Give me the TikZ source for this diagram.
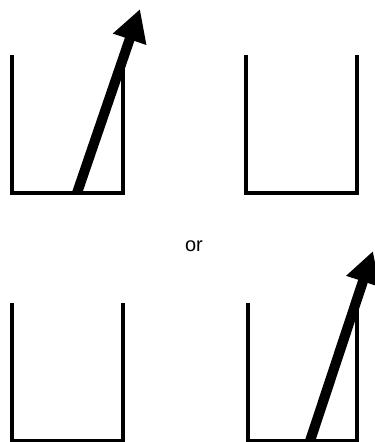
\documentclass[tikz,border=0pt]{standalone}
\usepackage{fontspec}
\setsansfont{Liberation Sans}
\usetikzlibrary{arrows.meta}

\tikzset{
  beaker/.style={line width=3.2pt, line cap=butt, line join=miter},
  ray/.style={line width=10pt, -{Triangle[length=32pt, width=33pt]}}
}

\begin{document}
\begin{tikzpicture}[x=1pt, y=-1pt]
        \useasboundingbox (0,0) rectangle (375,442);

        % Bicchiere in alto a sinistra
        \draw[beaker] (12,55) -- (12,193) -- (123,193) -- (123,55);
        \coordinate (a0) at (77,193);
        \coordinate (a1) at (140,9);
        \draw[ray] (a0) -- (a1);

        % Bicchiere in alto a destra
        \draw[beaker] (246,55) -- (246,193) -- (357,193) -- (357,55);

        % Testo
        \node[font=\sffamily\fontsize{20}{22}\selectfont] (oppure) at (194,246) {or};

        % Bicchiere in basso a sinistra
        \draw[beaker] (12,303) -- (12,441) -- (123,441) -- (123,303);

        % Bicchiere in basso a destra
        \draw[beaker] (248,303) -- (248,441) -- (357,441) -- (357,303);
        \coordinate (b0) at (310,441);
        \coordinate (b1) at (373,251);
        \draw[ray] (b0) -- (b1);

    \end{tikzpicture}
\end{document}
